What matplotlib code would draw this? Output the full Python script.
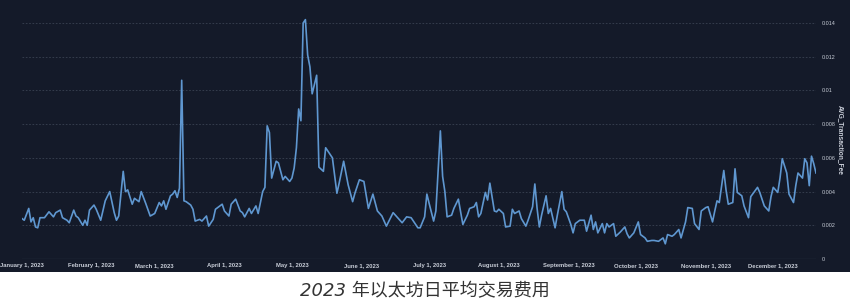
### ETH avg transaction fee 2023 ###
import numpy as np
import pandas as pd
import matplotlib
matplotlib.use("Agg")
import matplotlib.pyplot as plt
import matplotlib.dates as mdates
from matplotlib.patches import Rectangle

## data ## (day offset from 2023-01-01, avg fee in ETH)
days = [0, 1, 3, 4, 5, 6, 7, 8, 10, 12, 14, 15, 17, 18, 20, 21, 23, 24, 25, 27, 28, 29, 30,
        32, 33, 35, 37, 39, 41, 42, 43, 45, 46, 47, 49, 50, 52, 53, 55, 57,
        59, 61, 62, 63, 64, 66, 67, 68, 69, 70, 71, 72, 73, 75, 76, 77, 79, 80, 82, 83, 85, 86, 87, 89,
        90, 92, 93, 95, 97, 98, 99, 101, 102, 104, 105, 107, 108, 109, 110, 111, 113, 114, 116, 117, 119,
        120, 121, 122, 123, 124, 125, 126, 127, 128, 129, 131, 132, 134, 135, 137, 138, 140, 141, 143,
        145, 147, 148, 150,
        152, 154, 156, 158, 160, 162, 165, 167, 169, 171, 173, 176, 177, 179, 180,
        181, 183, 184, 186, 187, 188, 189, 191, 192, 194, 196, 198, 199, 201, 202, 203, 204, 206, 207,
        208, 210, 211,
        212, 214, 215, 217, 218, 219, 221, 222, 224, 225, 227, 228, 229, 230, 231, 233, 234, 235, 237,
        238, 240, 241, 242,
        244, 245, 246, 248, 250, 251, 253, 254, 255, 256, 258, 259, 260, 261, 263, 264, 266, 268, 269,
        270, 272,
        274, 275, 277, 278, 280, 281, 283, 285, 286, 287, 289, 290, 292, 293, 295, 296, 298, 299, 301,
        302, 304,
        305, 307, 308, 309, 310, 312, 313, 314, 316, 317, 318, 320, 321, 323, 324, 327, 328, 330, 332,
        333,
        334, 336, 337, 338, 340, 341, 343, 344, 345, 347, 348, 349, 350, 351, 352, 353]

fee = [0.0024, 0.0023, 0.0030, 0.0022, 0.00245, 0.0019, 0.00185, 0.00245, 0.00245, 0.0028, 0.0025,
       0.00275, 0.0029, 0.00245, 0.0023, 0.00215, 0.0029, 0.00255, 0.00245, 0.0020, 0.0023, 0.0020, 0.0029,
       0.0032, 0.00295, 0.0023, 0.00345, 0.0040, 0.00275, 0.0023, 0.00255, 0.0052, 0.0040, 0.0041,
       0.00325, 0.0036, 0.0034, 0.0040, 0.0033, 0.00255,
       0.0027, 0.00335, 0.00315, 0.00345, 0.00295, 0.00375, 0.00385, 0.00405, 0.00365, 0.0042, 0.0106,
       0.00345, 0.0034, 0.0032, 0.00295, 0.00225, 0.00235, 0.00225, 0.00255, 0.00195, 0.00235, 0.00295,
       0.00305, 0.00325,
       0.00285, 0.00255, 0.00325, 0.00355, 0.00285, 0.00275, 0.0025, 0.0030, 0.0027, 0.00315, 0.0027,
       0.0040, 0.00425, 0.0079, 0.0075, 0.0048, 0.0058, 0.0057, 0.0047, 0.0049, 0.0046,
       0.0048, 0.0054, 0.0066, 0.0089, 0.0082, 0.0140, 0.0142, 0.0121, 0.0114, 0.0098, 0.0109, 0.00545,
       0.0052, 0.0066, 0.0062, 0.0060, 0.0039, 0.0045, 0.0058,
       0.0044, 0.0034, 0.0039, 0.0047,
       0.0046, 0.0030, 0.00385, 0.00285, 0.00255, 0.00195, 0.00275, 0.00245, 0.00215, 0.0025, 0.00245,
       0.00185, 0.00185, 0.0025, 0.00385,
       0.0033, 0.00225, 0.00285, 0.0076, 0.0049, 0.0040, 0.0025, 0.0026, 0.0030, 0.00355, 0.00205,
       0.0026, 0.0030, 0.0031, 0.00335, 0.0025, 0.0027, 0.00395, 0.0035,
       0.0045, 0.00285, 0.0028,
       0.00295, 0.0027, 0.0019, 0.00195, 0.00295, 0.0027, 0.00285, 0.0024, 0.00195, 0.0023, 0.0031,
       0.00445, 0.0030, 0.0019, 0.0026, 0.00375, 0.0027, 0.0030, 0.00185,
       0.0026, 0.0040, 0.00295, 0.0028,
       0.00205, 0.00155, 0.0021, 0.0023, 0.0023, 0.00165, 0.0026, 0.00175, 0.0022, 0.00155, 0.0021,
       0.00155, 0.0021, 0.0019, 0.0021, 0.00135, 0.0016, 0.0019, 0.0015,
       0.00125, 0.00155,
       0.0022, 0.00145, 0.00125, 0.00105, 0.0011, 0.0011, 0.00105, 0.00125, 0.0009, 0.00145, 0.00135,
       0.00145, 0.00175, 0.00125, 0.0022, 0.00305, 0.0030, 0.0021, 0.00175,
       0.00285, 0.00305,
       0.0031, 0.0022, 0.00285, 0.00345, 0.00335, 0.00525, 0.0041, 0.00325, 0.00335, 0.00535, 0.00395,
       0.00375, 0.00315, 0.00245, 0.0037, 0.00425, 0.00395, 0.00315, 0.00285,
       0.0037,
       0.00425, 0.00395, 0.0048, 0.00595, 0.0051, 0.00385, 0.00335, 0.00435, 0.0051, 0.0048, 0.00595,
       0.0057, 0.00435, 0.0061, 0.00565, 0.0051]

month_names = ["January", "February", "March", "April", "May", "June", "July",
               "August", "September", "October", "November", "December"]
ytick_vals = [0, 0.002, 0.004, 0.006, 0.008, 0.01, 0.012, 0.014]
ytick_labels = ["0", "0.002", "0.004", "0.006", "0.008", "0.01", "0.012", "0.014"]

start = pd.Timestamp("2023-01-01")
dates = start + pd.to_timedelta(days, unit="D")

## style ##
bg = "#141a29"
txt = "#c9ced8"
line_c = "#5f97d0"

fig = plt.figure(figsize=(8.5, 3.07), dpi=100, facecolor="white")
# dark panel (behind everything)
fig.patches.append(Rectangle((0, 35 / 307), 1, 1 - 35 / 307, transform=fig.transFigure,
                             facecolor=bg, edgecolor="none", zorder=-10))

ax = fig.add_axes([22 / 850, 48 / 307, 794 / 850, 0.7962], zorder=5)
ax.patch.set_alpha(0)
ax.plot(dates, fee, color=line_c, lw=1.2, zorder=3)

ax.set_xlim(start, start + pd.Timedelta(days=353))
ax.set_ylim(0, 0.0145)

# grid #
for v in ytick_vals[1:]:
    ax.axhline(v, color="#3a4252", lw=0.6, ls=(0, (2, 2)), zorder=1)
ax.axhline(0, color="#5c6373", lw=0.8, zorder=2)

for s in ax.spines.values():
    s.set_visible(False)

# x ticks #
xt = [pd.Timestamp(2023, m, 1) for m in range(1, 13)]
ax.set_xticks(xt)
ax.set_xticklabels(["%s 1, 2023" % n for n in month_names], fontsize=4.2, color=txt,
                   fontweight="bold", family="Liberation Sans")
ax.tick_params(axis="x", length=0, pad=3)

# y ticks right #
ax.yaxis.tick_right()
ax.set_yticks(ytick_vals)
ax.set_yticklabels(ytick_labels, fontsize=3.9, color=txt, family="Liberation Sans")
ax.tick_params(axis="y", length=0, pad=4)

fig.text(840 / 850, (307 - 140) / 307, "AVG_Transaction_Fee", rotation=270, fontsize=4.8,
         color=txt, ha="center", va="center", family="Liberation Sans", fontweight="bold")

# caption #
fig.text(0.5, (307 - 291) / 307, "2023 年以太坊日平均交易费用", fontsize=13, style="italic",
         color="#333333", ha="center", va="center", family=["DejaVu Sans", "Noto Sans CJK SC"])

fig.savefig("out.png", dpi=100, facecolor="white")
